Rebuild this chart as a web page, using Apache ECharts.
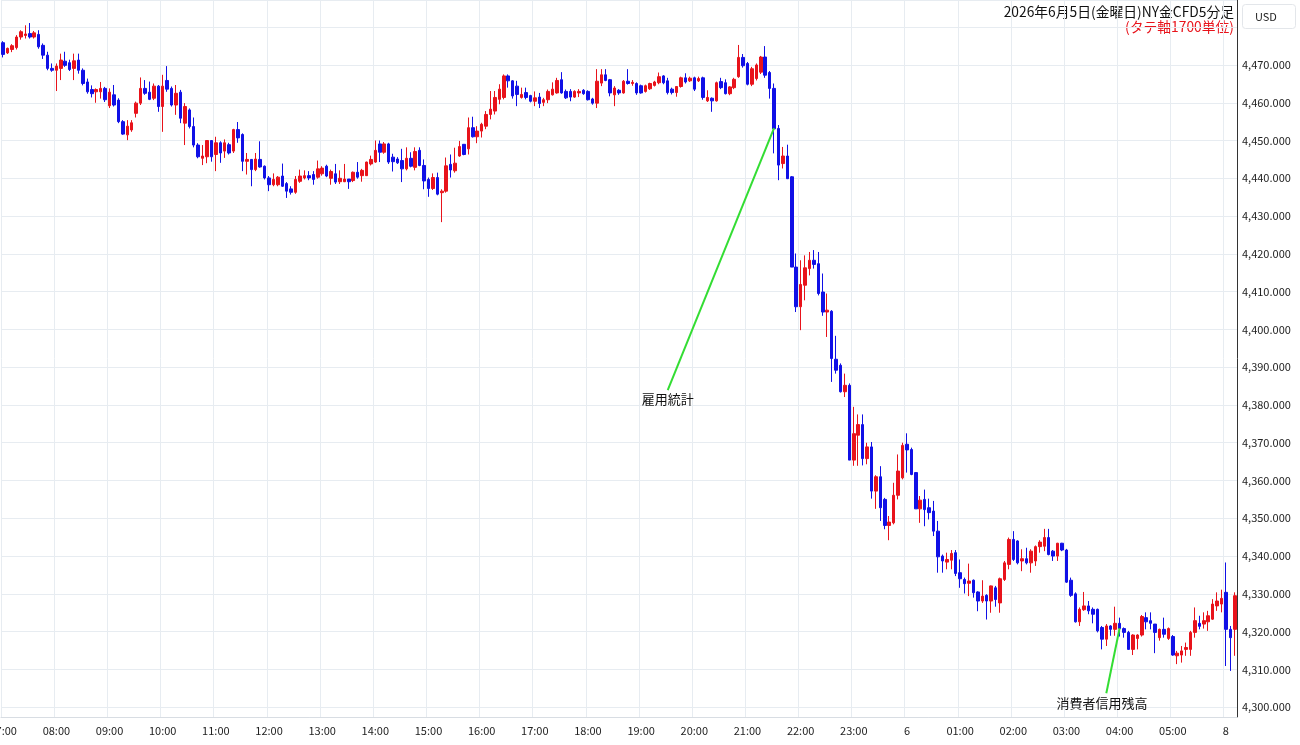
<!DOCTYPE html>
<html><head><meta charset="utf-8">
<script src="https://cdn.jsdelivr.net/npm/echarts@6/dist/echarts.min.js"></script>
<style>html,body{margin:0;padding:0;background:#fff}#c{width:1300px;height:745px}</style>
</head><body><div id="c"></div>
<script>
// 5-minute candles, Friday 07:00 -> Saturday 05:55, then Monday 07:00-07:10
const opens = [4475.9,4473.2,4474.1,4474.6,4477.4,4477.8,4478.3,4477.4,4478.1,4475.2,4472.6,4469.1,4468.6,4469.1,4471.0,4470.6,4469.1,4471.3,4468.6,4465.5,4463.5,4462.9,4462.9,4463.8,4459.2,4462.1,4460.7,4455.0,4451.5,4452.8,4457.2,4459.9,4463.8,4462.8,4461.2,4464.4,4459.0,4465.9,4463.8,4459.4,4462.8,4454.6,4458.1,4453.7,4448.8,4445.3,4445.7,4450.0,4446.3,4449.4,4447.2,4448.9,4447.2,4452.9,4451.6,4444.5,4445.0,4442.3,4445.0,4443.2,4440.1,4438.3,4438.3,4440.6,4438.6,4437.2,4436.3,4439.2,4440.1,4440.7,4441.0,4440.3,4441.2,4443.2,4440.0,4441.2,4439.1,4439.1,4439.8,4439.4,4441.6,4440.7,4440.7,4443.8,4444.3,4449.1,4446.9,4449.1,4445.6,4445.1,4444.7,4442.5,4445.3,4442.9,4447.4,4443.4,4439.7,4437.3,4440.2,4436.2,4436.6,4443.7,4442.0,4445.9,4449.0,4447.8,4453.4,4451.0,4452.5,4453.8,4456.9,4457.8,4460.9,4461.4,4467.1,4465.8,4464.4,4461.4,4462.7,4461.9,4460.4,4461.5,4460.1,4460.8,4462.1,4462.6,4466.1,4463.0,4463.0,4461.5,4462.6,4463.3,4463.0,4461.0,4459.9,4465.2,4467.4,4466.1,4462.1,4463.3,4462.6,4465.7,4465.1,4465.1,4464.5,4463.0,4463.7,4464.6,4465.3,4467.1,4465.8,4463.6,4462.7,4464.3,4466.6,4465.8,4466.6,4465.8,4466.6,4460.5,4461.2,4460.5,4465.6,4465.3,4462.4,4464.0,4466.9,4472.0,4470.4,4464.9,4466.4,4468.1,4472.1,4468.0,4463.8,4453.2,4443.9,4445.9,4440.4,4416.5,4406.0,4411.7,4416.1,4418.3,4417.4,4409.9,4404.6,4404.8,4392.1,4390.5,4383.5,4385.2,4365.4,4372.0,4374.8,4365.8,4368.9,4357.2,4361.0,4355.0,4348.1,4348.8,4356.1,4360.7,4369.6,4368.2,4362.1,4352.5,4355.0,4352.8,4351.9,4346.6,4340.0,4338.4,4338.9,4340.9,4335.6,4333.8,4332.8,4333.6,4330.5,4328.1,4329.6,4328.1,4331.6,4327.6,4333.8,4337.8,4344.4,4344.0,4338.7,4339.3,4338.2,4338.7,4342.5,4342.6,4344.9,4341.3,4340.0,4343.4,4341.6,4333.6,4330.0,4322.6,4325.8,4326.8,4325.9,4325.9,4321.1,4318.0,4321.5,4320.6,4322.2,4320.8,4319.8,4315.3,4318.2,4319.1,4323.7,4322.9,4322.0,4318.4,4320.6,4318.2,4318.7,4313.6,4313.8,4315.3,4315.3,4319.8,4322.2,4322.0,4322.6,4323.3,4326.8,4327.3,4330.4,4320.6,4320.6];
const closes = [4472.8,4474.4,4475.1,4477.4,4478.8,4478.2,4477.4,4478.5,4474.8,4472.6,4469.1,4468.6,4469.7,4471.3,4469.9,4468.8,4471.1,4468.6,4465.1,4462.9,4462.4,4463.5,4463.8,4460.8,4462.8,4459.4,4455.0,4451.7,4453.8,4454.7,4459.9,4463.8,4462.5,4460.9,4464.4,4459.0,4464.4,4463.6,4459.4,4462.5,4455.9,4459.0,4453.7,4448.8,4445.7,4445.9,4450.0,4445.7,4449.4,4446.7,4449.4,4446.7,4452.9,4450.7,4444.5,4445.0,4442.3,4445.1,4443.0,4440.1,4438.3,4439.7,4440.3,4437.9,4436.6,4436.3,4439.7,4440.6,4440.7,4440.1,4439.7,4442.5,4442.7,4440.6,4441.8,4439.0,4440.0,4439.8,4439.1,4441.6,4440.3,4442.1,4444.3,4445.0,4447.4,4446.9,4449.1,4444.3,4444.4,4444.1,4442.5,4445.3,4443.2,4447.1,4443.4,4439.3,4437.3,4440.2,4435.8,4436.6,4443.3,4442.2,4444.0,4448.4,4446.3,4453.4,4451.0,4452.5,4454.3,4456.9,4458.3,4461.4,4463.6,4467.1,4465.8,4461.8,4462.2,4462.2,4461.4,4460.4,4461.3,4459.8,4460.8,4463.0,4463.6,4465.9,4462.6,4461.3,4461.5,4463.0,4463.0,4462.4,4460.8,4459.9,4465.7,4467.4,4465.9,4462.6,4463.9,4462.6,4465.7,4465.1,4465.4,4462.6,4462.6,4464.5,4465.1,4465.5,4466.9,4465.3,4462.7,4462.7,4464.3,4466.6,4465.5,4466.5,4463.6,4466.4,4461.4,4461.4,4460.5,4465.3,4464.0,4462.4,4464.2,4466.2,4472.0,4469.8,4464.9,4469.0,4470.0,4472.1,4467.3,4463.8,4453.1,4443.5,4445.9,4439.9,4416.5,4406.0,4411.9,4416.3,4418.3,4417.2,4409.5,4404.6,4405.1,4392.3,4389.2,4383.5,4385.2,4365.4,4372.4,4374.8,4365.8,4368.9,4357.2,4361.0,4352.8,4348.1,4349.0,4356.1,4362.5,4369.3,4368.1,4361.6,4352.5,4354.8,4352.3,4351.5,4346.6,4339.8,4338.7,4339.1,4340.7,4335.4,4334.0,4332.7,4333.4,4330.3,4328.1,4329.4,4328.1,4332.1,4328.5,4334.0,4338.2,4344.4,4339.1,4338.2,4339.3,4338.2,4341.3,4342.5,4343.7,4344.9,4340.4,4340.0,4343.4,4341.6,4333.1,4329.6,4322.6,4325.9,4326.8,4325.5,4324.6,4320.2,4318.0,4321.5,4320.6,4322.2,4320.8,4319.8,4315.3,4319.1,4319.1,4324.0,4322.6,4322.2,4319.8,4320.6,4319.3,4320.8,4313.8,4314.3,4314.9,4315.8,4319.8,4322.9,4321.4,4322.9,4324.2,4327.3,4328.1,4328.8,4320.6,4318.4,4329.5];
const lows = [4472.0,4472.9,4473.4,4474.1,4476.7,4477.0,4477.0,4477.0,4474.3,4471.6,4468.6,4468.2,4463.1,4466.0,4469.5,4468.4,4466.0,4467.7,4464.6,4462.4,4461.4,4460.0,4461.1,4460.2,4458.6,4459.0,4454.6,4451.5,4450.1,4452.3,4456.1,4459.4,4462.1,4460.7,4460.7,4457.6,4452.3,4462.9,4459.0,4456.8,4454.6,4448.8,4453.2,4448.2,4445.3,4443.5,4444.0,4444.4,4441.9,4444.1,4445.4,4446.3,4446.7,4449.4,4441.9,4441.0,4437.9,4441.9,4442.8,4439.7,4436.6,4437.9,4437.9,4437.7,4434.8,4435.7,4435.9,4438.8,4439.7,4439.5,4438.3,4439.9,4440.7,4440.3,4438.3,4438.5,4438.5,4439.0,4437.2,4439.0,4439.9,4439.1,4440.6,4443.4,4444.1,4444.3,4446.5,4443.8,4441.8,4443.8,4439.0,4442.1,4442.9,4442.1,4443.2,4437.1,4435.1,4436.9,4435.5,4428.4,4436.2,4440.2,4441.5,4445.7,4446.1,4446.3,4450.8,4449.3,4450.8,4453.0,4455.6,4456.9,4459.6,4460.9,4464.0,4461.1,4459.1,4461.1,4460.9,4460.1,4459.1,4458.6,4459.1,4459.9,4461.9,4462.4,4462.4,4461.0,4460.4,4461.3,4461.5,4462.1,4460.6,4459.5,4458.6,4464.4,4465.7,4461.7,4459.1,4462.1,4462.4,4464.8,4464.5,4462.1,4462.4,4462.7,4463.4,4464.3,4464.9,4464.9,4462.2,4462.2,4461.6,4464.0,4465.1,4465.5,4463.1,4465.5,4460.8,4460.2,4457.6,4460.3,4463.6,4462.2,4462.0,4463.6,4466.6,4469.3,4464.6,4464.4,4465.9,4467.6,4466.6,4461.1,4446.6,4439.5,4442.6,4439.8,4416.5,4404.6,4399.8,4407.7,4414.3,4416.1,4409.0,4403.6,4398.0,4386.1,4388.3,4383.3,4382.1,4365.4,4363.9,4363.9,4364.0,4364.3,4355.2,4352.5,4349.3,4347.1,4344.2,4348.4,4355.0,4360.3,4362.1,4361.4,4352.5,4348.8,4347.9,4349.7,4345.3,4335.6,4335.6,4336.5,4336.5,4334.7,4331.6,4330.1,4329.4,4329.0,4325.4,4327.6,4323.2,4325.0,4326.6,4325.0,4333.4,4336.5,4338.7,4337.8,4336.0,4337.8,4335.6,4337.4,4340.9,4341.3,4340.2,4338.7,4338.7,4341.3,4332.9,4329.2,4322.4,4321.5,4325.5,4324.6,4322.2,4319.8,4315.3,4316.2,4318.9,4318.9,4318.7,4318.4,4315.2,4313.8,4315.3,4318.7,4320.6,4320.6,4314.3,4317.6,4318.4,4317.8,4313.6,4311.4,4311.8,4313.6,4313.6,4318.4,4320.6,4320.8,4320.2,4323.1,4325.5,4325.1,4310.9,4309.6,4313.6];
const highs = [4476.3,4474.6,4475.5,4477.9,4479.2,4480.5,4481.1,4479.0,4479.2,4475.7,4473.5,4470.4,4470.4,4473.0,4473.5,4471.4,4473.0,4473.0,4469.1,4466.4,4464.6,4463.8,4465.5,4464.2,4463.8,4464.7,4461.2,4455.4,4455.4,4455.4,4460.3,4466.7,4466.0,4465.6,4465.1,4464.7,4467.4,4469.7,4464.3,4464.7,4463.4,4459.9,4458.5,4456.1,4449.3,4448.8,4450.1,4450.1,4451.0,4449.8,4450.3,4449.4,4453.1,4454.9,4451.9,4446.7,4445.1,4446.7,4449.8,4443.4,4440.6,4441.3,4440.6,4443.9,4439.0,4437.9,4440.6,4442.3,4442.1,4441.9,4441.9,4444.7,4443.2,4443.6,4442.3,4443.8,4442.1,4443.8,4439.8,4441.8,4444.3,4442.5,4444.4,4446.0,4450.0,4450.0,4449.6,4449.4,4446.5,4445.6,4447.8,4448.2,4446.9,4448.2,4448.2,4445.0,4440.2,4441.3,4441.5,4437.1,4445.5,4446.3,4448.1,4449.9,4449.0,4456.1,4456.3,4453.8,4454.7,4457.8,4463.1,4463.1,4464.9,4467.5,4467.5,4466.0,4465.8,4464.0,4464.0,4462.1,4463.0,4462.6,4461.3,4463.5,4465.4,4466.6,4468.1,4463.5,4463.6,4463.3,4463.6,4463.6,4463.3,4461.3,4468.9,4468.9,4468.9,4466.3,4464.4,4463.6,4466.0,4468.9,4466.0,4465.4,4464.8,4464.8,4465.3,4465.8,4468.0,4467.3,4466.6,4464.0,4464.4,4466.9,4467.8,4466.9,4466.9,4466.9,4466.9,4463.3,4461.4,4465.6,4466.6,4466.2,4464.4,4466.6,4475.3,4472.9,4470.8,4469.5,4470.4,4472.4,4475.0,4468.4,4465.1,4454.1,4448.3,4448.9,4440.6,4420.1,4418.3,4419.6,4420.5,4421.0,4420.5,4414.8,4409.5,4405.1,4398.3,4391.0,4388.3,4385.7,4379.5,4377.5,4377.5,4370.0,4370.2,4361.4,4363.8,4355.4,4350.6,4359.4,4366.9,4370.0,4372.5,4368.7,4362.2,4355.9,4357.6,4355.2,4354.6,4349.3,4340.4,4340.9,4341.6,4341.6,4339.1,4334.3,4338.0,4333.8,4330.7,4333.6,4329.9,4332.2,4332.1,4334.3,4338.7,4344.9,4346.6,4344.2,4341.8,4342.2,4341.8,4342.8,4344.2,4347.2,4347.2,4341.6,4343.5,4343.5,4341.9,4334.3,4330.4,4326.4,4330.5,4328.1,4326.4,4326.1,4321.5,4322.0,4321.7,4326.6,4323.7,4321.1,4320.2,4319.3,4319.3,4324.4,4325.1,4325.1,4322.0,4320.8,4323.7,4321.1,4319.1,4314.9,4316.2,4317.1,4320.2,4326.4,4324.2,4325.1,4325.5,4328.6,4330.4,4331.1,4338.3,4321.5,4330.4];
// one label per hour (every 12th candle)
const tickLabels = ['07:00','08:00','09:00','10:00','11:00','12:00','13:00','14:00','15:00','16:00','17:00','18:00','19:00','20:00','21:00','22:00','23:00','6','01:00','02:00','03:00','04:00','05:00','8'];
const titleText = '2026年6月5日(金曜日)NY金CFD5分足';
const subText = '(タテ軸1700単位)';
const notes = [
  {text:'雇用統計', label:[150, 4381.6], from:[150.1, 4383.9], to:[173.8, 4453.3]},
  {text:'消費者信用残高', label:[248.3, 4301.0], from:[248.5, 4303.7], to:[251.6, 4320.9]}
];

// category names: time of each 5-minute bar
const cats = [];
for (let i = 0; i < opens.length; i++) {
  let m = i < 276 ? 7*60 + 5*i : 7*60 + 5*(i-276);
  const hh = String(Math.floor(m/60)%24).padStart(2,'0'), mm = String(m%60).padStart(2,'0');
  cats.push((i < 204 ? '6/5 ' : i < 276 ? '6/6 ' : '6/8 ') + hh + ':' + mm);
}
const ohlc = opens.map((o,i)=>[o, closes[i], lows[i], highs[i]]);

const FONT = '"Noto Sans CJK JP","Noto Sans",sans-serif';
const chart = echarts.init(document.getElementById('c'), null, {renderer:'canvas'});
const isHour = (idx)=> idx % 12 === 0;
chart.setOption({
  animation:false,
  backgroundColor:'#fff',
  grid:{left:1, right:63, top:0, bottom:28, containLabel:false, outerBoundsMode:'none'},
  xAxis:{
    type:'category', data:cats, boundaryGap:true,
    axisLine:{show:true, lineStyle:{color:'#d8dde3'}},
    axisTick:{show:false},
    axisLabel:{interval:(idx)=>isHour(idx), formatter:(v,idx)=>tickLabels[Math.round(idx/12)] || '',
      color:'#222', fontSize:11, fontFamily:FONT, margin:8},
    splitLine:{show:true, interval:(idx)=>isHour(idx), lineStyle:{color:'#e7ecf1', width:1}}
  },
  yAxis:{
    type:'value', position:'right', min:4297.4, max:4487.2, splitNumber:19, scale:true,
    axisLine:{show:true, lineStyle:{color:'#333', width:1}},
    axisTick:{show:false},
    axisLabel:{showMinLabel:false, showMaxLabel:false, color:'#222', fontSize:11, fontFamily:FONT, margin:5,
      formatter:(v)=>{ if (Math.abs(v/10 - Math.round(v/10))>1e-6 || v>4475) return ''; return v.toLocaleString('en-US',{minimumFractionDigits:3, maximumFractionDigits:3}); }},
    splitLine:{show:true, lineStyle:{color:'#e7ecf1', width:1}}
  },
  series:[{
    type:'candlestick', data:ohlc, barWidth:3,
    itemStyle:{color:'#e8131b', color0:'#1010e6', borderColor:'#e8131b', borderColor0:'#1010e6', borderWidth:1},
    markLine:{silent:true, symbol:['none','none'], animation:false,
      lineStyle:{color:'#33dd33', width:2, type:'solid'}, label:{show:false},
      data: notes.map(n=>[{coord:n.from},{coord:n.to}])},
    markPoint:{silent:true, animation:false,
      data: notes.map(n=>({coord:n.label, symbol:'circle', symbolSize:1, itemStyle:{color:'rgba(0,0,0,0)'},
        label:{show:true, position:'inside', formatter:n.text, color:'#111', fontSize:13, fontFamily:FONT}}))}
  }],
  graphic:[
    {type:'text', x:1234, y:5, style:{text:titleText, align:'right', textAlign:'right', verticalAlign:'top', textVerticalAlign:'top', fill:'#111', font:'13.8px '+FONT}},
    {type:'text', x:1234, y:20, style:{text:subText, align:'right', textAlign:'right', verticalAlign:'top', textVerticalAlign:'top', fill:'#e8131b', font:'13.8px '+FONT}},
    {type:'rect', shape:{x:1242.5, y:4.5, width:53, height:24, r:3}, style:{fill:'#fff', stroke:'#e3e6ea', lineWidth:1}},
    {type:'text', x:1255, y:16.5, style:{text:'USD', verticalAlign:'middle', textVerticalAlign:'middle', fill:'#222', font:'11px '+FONT}}
  ]
});
</script></body></html>
